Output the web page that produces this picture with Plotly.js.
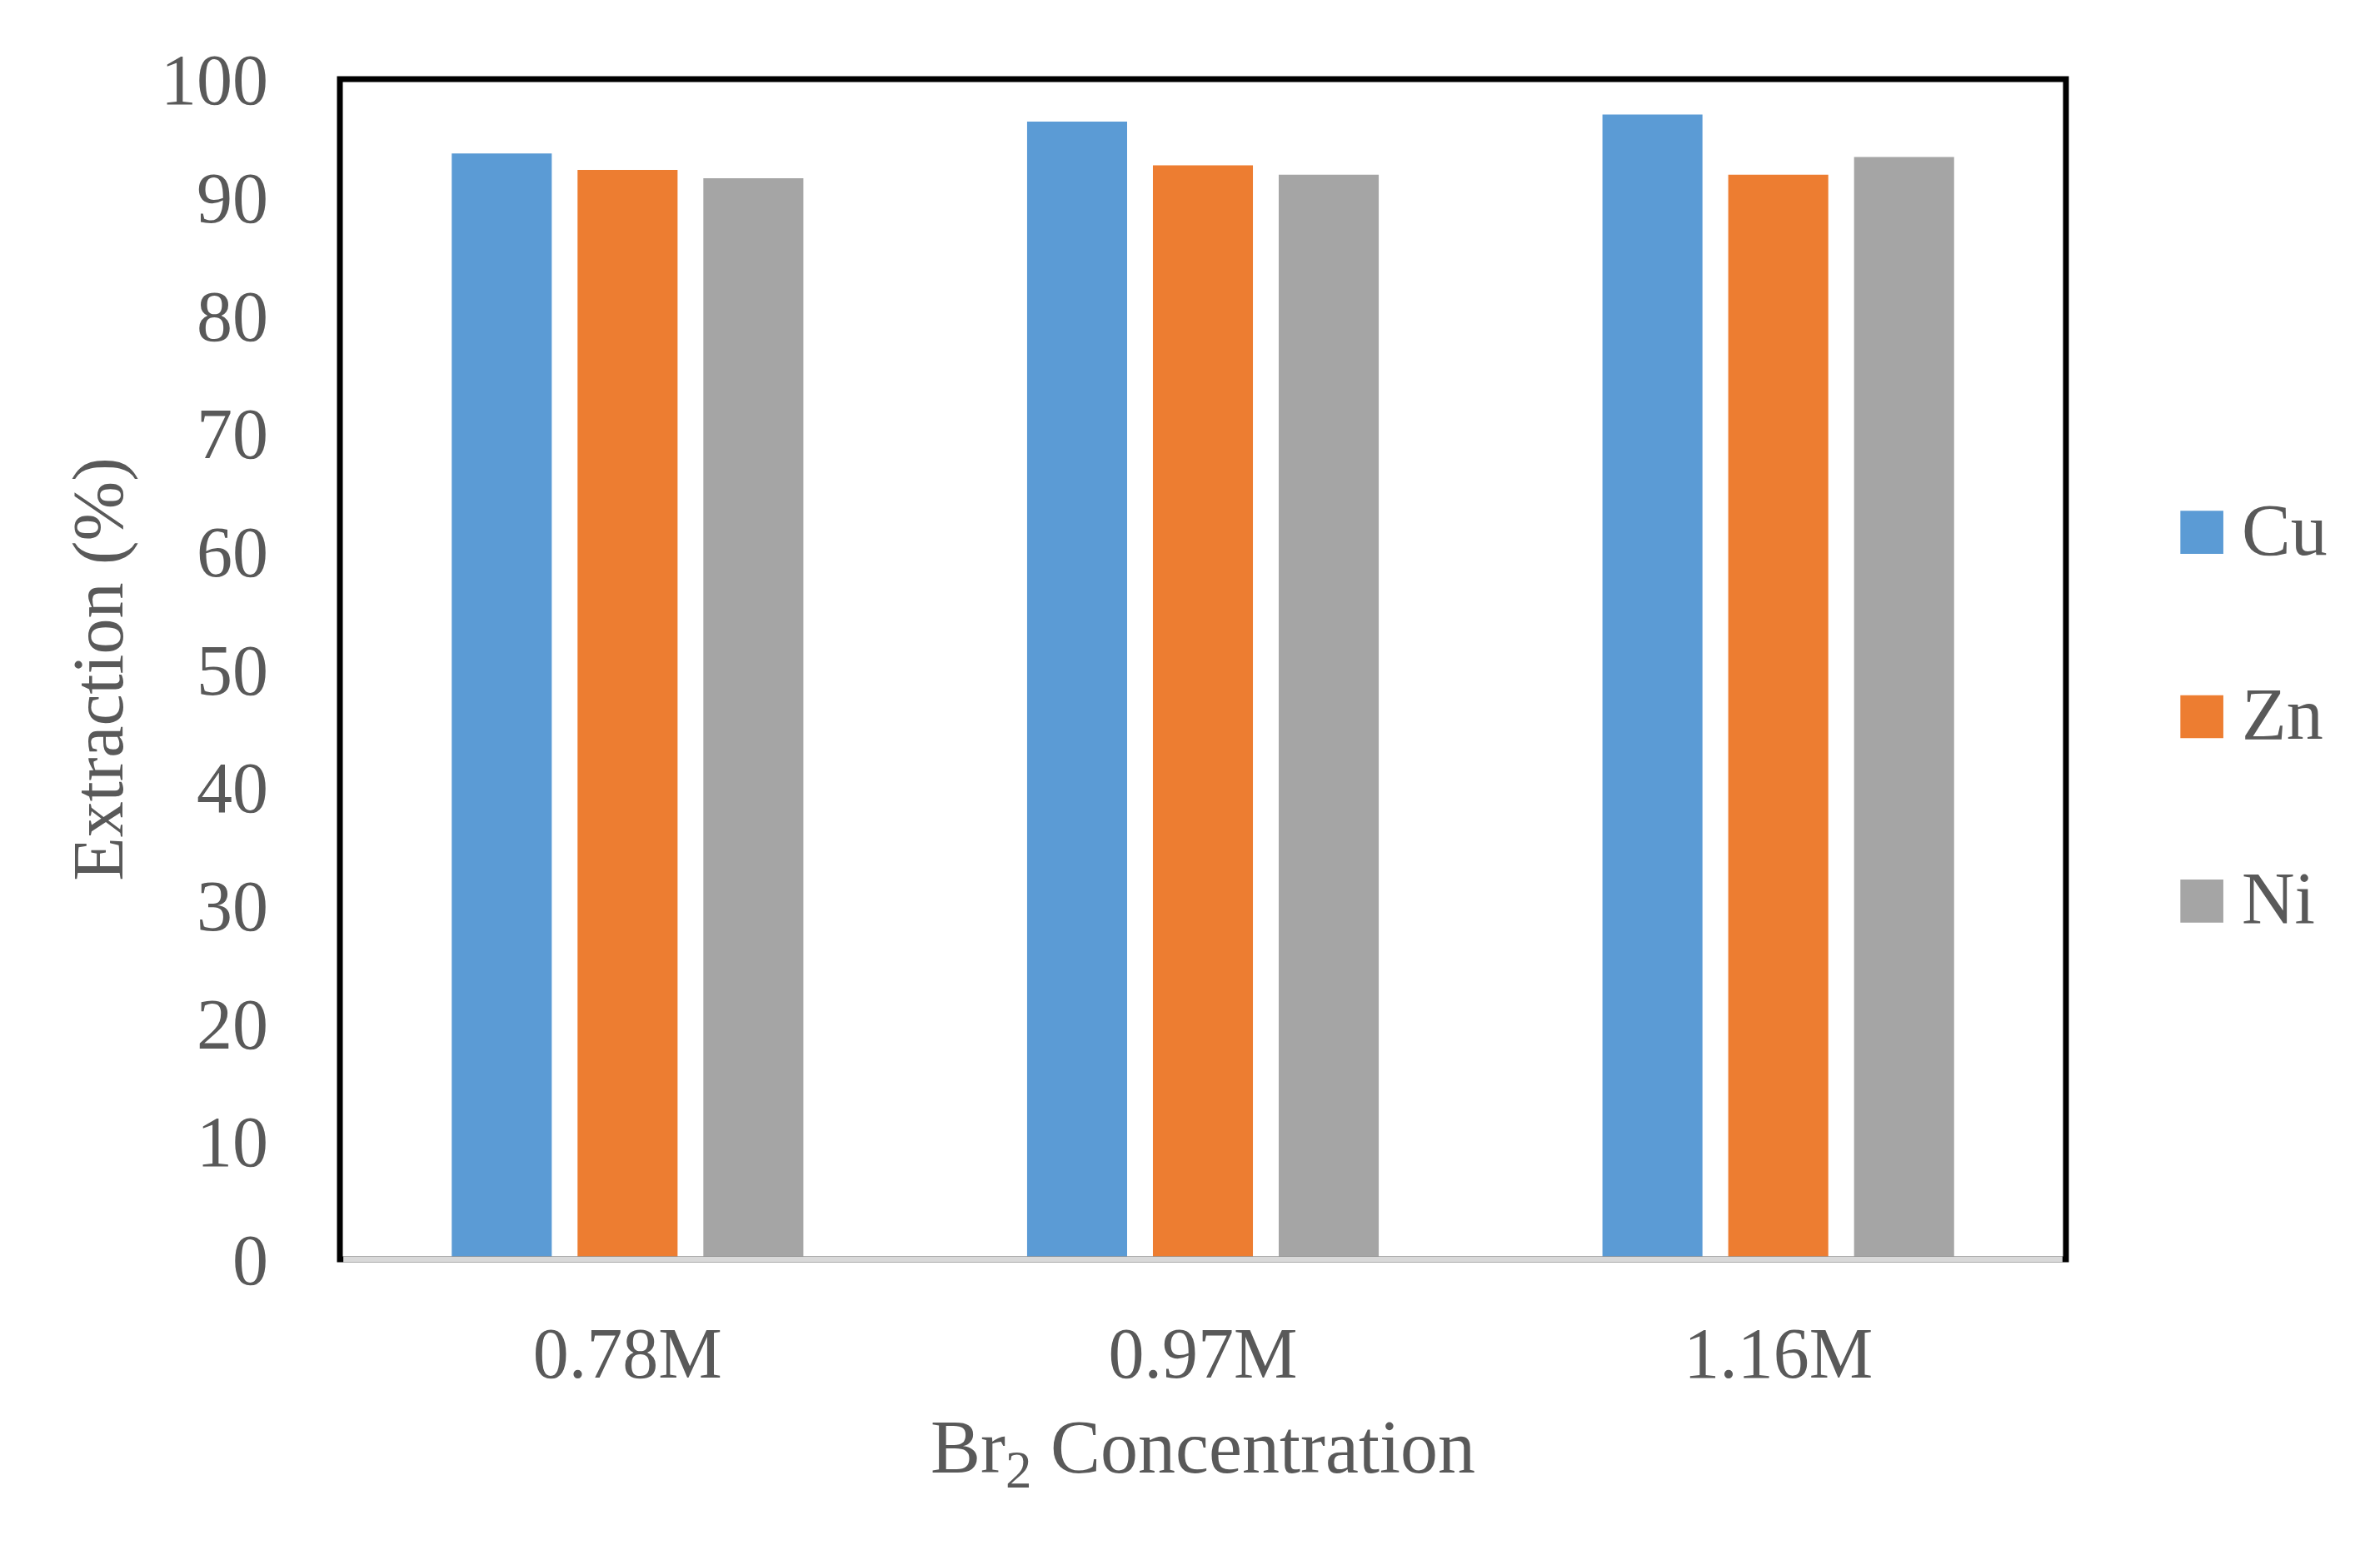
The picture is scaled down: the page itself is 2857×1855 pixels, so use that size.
<!DOCTYPE html>
<html>
<head>
<meta charset="utf-8">
<script src="https://cdn.plot.ly/plotly-3.0.1.min.js"></script>
<style>
  html, body { margin: 0; padding: 0; background: #ffffff; }
  #chart { width: 2857px; height: 1855px; }
</style>
</head>
<body>
<div id="chart"></div>
<script>
// ---- data ----
const categories = ["0.78M", "0.97M", "1.16M"];
const seriesNames = ["Cu", "Zn", "Ni"];
const cuValues = [93.7, 96.4, 97.0];
const znValues = [92.3, 92.7, 91.9];
const niValues = [91.6, 91.9, 93.4];
const yTickValues = [0, 10, 20, 30, 40, 50, 60, 70, 80, 90, 100];
const xTitle = "Br<sub>2</sub> Concentration";
const yTitle = "Extraction (%)";

const colors = ["#5b9bd5", "#ed7d31", "#a5a5a5"];
const textColor = "#595959";
const fontFamily = "Liberation Serif, Times New Roman, serif";

const allValues = [cuValues, znValues, niValues];
const traces = seriesNames.map((name, i) => ({
  type: "bar",
  name: name,
  x: categories,
  y: allValues[i],
  marker: { color: colors[i], line: { width: 0 } },
  legendgroup: name,
  hoverinfo: "x+y+name"
}));

const layout = {
  width: 2857,
  height: 1855,
  paper_bgcolor: "#ffffff",
  plot_bgcolor: "#ffffff",
  margin: { l: 408, r: 377, t: 95, b: 343 },
  barmode: "group",
  bargap: 0.344,
  bargroupgap: 0.205,
  font: { family: fontFamily, color: textColor, size: 86 },
  xaxis: {
    type: "category",
    showline: false,
    ticks: "",
    showgrid: false,
    zeroline: false,
    tickfont: { family: fontFamily, color: textColor, size: 86 },
    ticklabelstandoff: 55,
    title: { text: xTitle, font: { family: fontFamily, color: textColor, size: 90 }, standoff: 32 }
  },
  yaxis: {
    range: [0, 100],
    tickvals: yTickValues,
    ticktext: yTickValues.map(String),
    showline: false,
    ticks: "",
    showgrid: false,
    zeroline: false,
    tickfont: { family: fontFamily, color: textColor, size: 86 },
    ticklabelstandoff: 85,
    title: { text: yTitle, font: { family: fontFamily, color: textColor, size: 86 }, standoff: 16 }
  },
  legend: {
    x: 1.0632,
    xanchor: "left",
    y: 0.465,
    yanchor: "middle",
    orientation: "v",
    font: { family: fontFamily, color: textColor, size: 88 },
    tracegroupgap: 104,
    itemwidth: 70,
    bgcolor: "rgba(0,0,0,0)"
  },
  shapes: [
    { type: "rect", xref: "paper", yref: "paper", x0: 0, x1: 1, y0: 0, y1: 1,
      line: { color: "#000000", width: 7 }, fillcolor: "rgba(0,0,0,0)", layer: "above" },
    { type: "line", xref: "paper", yref: "paper", x0: 0.002, x1: 0.998, y0: 0, y1: 0,
      line: { color: "#d9d9d9", width: 7 }, layer: "above" }
  ],
  showlegend: true
};

Plotly.newPlot("chart", traces, layout, { displayModeBar: false, staticPlot: true }).then(gd => {
  // enlarge legend swatches to the reference's large square keys, placed just left of the text
  document.querySelectorAll("#chart .legend .traces").forEach(item => {
    const path = item.querySelector(".legendpoints path");
    const text = item.querySelector(".legendtext");
    if (!path || !text) return;
    path.setAttribute("transform", "scale(4.3)");
    path.style.strokeWidth = "0";
    const pr = path.getBoundingClientRect();
    const tr = text.getBoundingClientRect();
    const dx = (tr.left - 22) - pr.right;
    const dy = ((tr.top + tr.bottom) / 2 + 3) - (pr.top + pr.bottom) / 2;
    path.setAttribute("transform", "translate(" + dx.toFixed(1) + "," + dy.toFixed(1) + ") scale(4.3)");
  });
});
</script>
</body>
</html>
